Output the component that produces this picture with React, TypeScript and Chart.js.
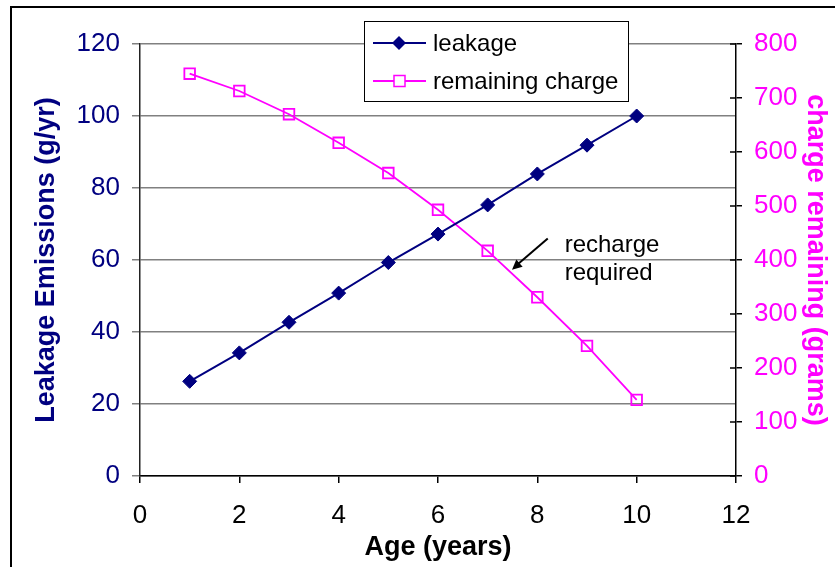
import React, { useEffect, useRef } from "react";
import { Chart, registerables } from "chart.js";

Chart.register(...registerables);

const ages = [1, 2, 3, 4, 5, 6, 7, 8, 9, 10];
const leakage = [26.3, 34.2, 42.7, 50.8, 59.3, 67.2, 75.3, 83.9, 91.9, 100];
const remaining = [745, 713, 670, 617, 561, 493, 417, 331, 241, 141];

const xTitle = "Age (years)";
const yLeftTitle = "Leakage Emissions (g/yr)";
const yRightTitle = "charge remaining (grams)";
const legendLabels = ["leakage", "remaining charge"];
const noteLines = ["recharge", "required"];

const NAVY = "#000080";
const MAGENTA = "#FF00FF";
const FONT = '"Liberation Sans", Arial, sans-serif';

const decorPlugin = {
  id: "decor",
  afterDraw(chart: any) {
    const ctx = chart.ctx;
    const x = chart.scales.x;
    const yl = chart.scales.y;
    const yr = chart.scales.y1;
    ctx.save();
    // inner half of right axis tick crosses
    ctx.strokeStyle = "#000";
    ctx.lineWidth = 1.5;
    for (const t of yr.ticks) {
      const py = yr.getPixelForValue(t.value);
      ctx.beginPath();
      ctx.moveTo(yr.left - 6, py);
      ctx.lineTo(yr.left, py);
      ctx.stroke();
    }
    // outer frame
    ctx.lineWidth = 2;
    ctx.strokeStyle = "#000";
    ctx.strokeRect(11, 7, 900, 700);

    // legend box
    const bx = 364, by = 21, bw = 264, bh = 80;
    ctx.fillStyle = "#fff";
    ctx.fillRect(bx, by, bw, bh);
    ctx.lineWidth = 1;
    ctx.strokeStyle = "#000";
    ctx.strokeRect(bx + 0.5, by + 0.5, bw, bh);
    const rows = [43, 81];
    ctx.font = "24px " + FONT;
    ctx.textBaseline = "middle";
    ctx.textAlign = "left";
    rows.forEach((ry, i) => {
      const col = i === 0 ? NAVY : MAGENTA;
      ctx.strokeStyle = col;
      ctx.lineWidth = 2;
      ctx.beginPath();
      ctx.moveTo(373, ry);
      ctx.lineTo(426, ry);
      ctx.stroke();
      if (i === 0) {
        ctx.fillStyle = NAVY;
        ctx.beginPath();
        ctx.moveTo(399 - 7, ry);
        ctx.lineTo(399, ry - 7);
        ctx.lineTo(399 + 7, ry);
        ctx.lineTo(399, ry + 7);
        ctx.closePath();
        ctx.fill();
      } else {
        ctx.lineWidth = 1.5;
        ctx.fillStyle = "#fff";
        ctx.fillRect(394, ry - 5.5, 11, 11);
        ctx.strokeRect(394, ry - 5.5, 11, 11);
      }
      ctx.fillStyle = "#000";
      ctx.fillText(legendLabels[i], 433, ry + 1);
    });

    // annotation
    const tx = x.getPixelForValue(8.55);
    const ty = yl.getPixelForValue(64.2);
    ctx.fillStyle = "#000";
    ctx.font = "24px " + FONT;
    ctx.fillText(noteLines[0], tx, ty);
    ctx.fillText(noteLines[1], tx, ty + 28);
    const ax0 = x.getPixelForValue(8.21), ay0 = yl.getPixelForValue(66.0);
    const ax1 = x.getPixelForValue(7.49), ay1 = yl.getPixelForValue(57.3);
    ctx.strokeStyle = "#000";
    ctx.lineWidth = 2;
    ctx.beginPath();
    ctx.moveTo(ax0, ay0);
    ctx.lineTo(ax1 + 4, ay1 - 4);
    ctx.stroke();
    const ang = Math.atan2(ay1 - ay0, ax1 - ax0);
    const hl = 11, hw = 0.45;
    ctx.fillStyle = "#000";
    ctx.beginPath();
    ctx.moveTo(ax1, ay1);
    ctx.lineTo(ax1 - hl * Math.cos(ang - hw), ay1 - hl * Math.sin(ang - hw));
    ctx.lineTo(ax1 - hl * Math.cos(ang + hw), ay1 - hl * Math.sin(ang + hw));
    ctx.closePath();
    ctx.fill();
    ctx.restore();
  },
};

export default function App() {
  const ref = useRef<HTMLCanvasElement | null>(null);
  useEffect(() => {
    document.body.style.margin = "0";
    if (!ref.current) return;
    const chart = new Chart(ref.current, {
      type: "line",
      data: {
        datasets: [
          {
            label: legendLabels[0],
            data: ages.map((a, i) => ({ x: a, y: leakage[i] })),
            borderColor: NAVY,
            backgroundColor: NAVY,
            borderWidth: 2,
            pointStyle: "rectRot",
            pointRadius: 7,
            pointBorderWidth: 1,
            pointBackgroundColor: NAVY,
            pointBorderColor: NAVY,
            yAxisID: "y",
            tension: 0,
          },
          {
            label: legendLabels[1],
            data: ages.map((a, i) => ({ x: a, y: remaining[i] })),
            borderColor: MAGENTA,
            backgroundColor: "#fff",
            borderWidth: 1.8,
            pointStyle: "rect",
            pointRadius: 7.5,
            pointBorderWidth: 1.8,
            pointBackgroundColor: "rgba(255,255,255,0)",
            pointBorderColor: MAGENTA,
            yAxisID: "y1",
            tension: 0,
          },
        ],
      },
      options: {
        animation: false,
        responsive: false,
        layout: { padding: { top: 44, left: 0, right: 0, bottom: 0 } },
        plugins: { legend: { display: false }, tooltip: { enabled: false } },
        scales: {
          x: {
            type: "linear",
            min: 0,
            max: 12,
            ticks: { stepSize: 2, color: "#000", font: { family: FONT, size: 26 }, padding: 17 },
            grid: { drawOnChartArea: false, drawTicks: true, tickLength: 7, color: "#000", lineWidth: 1.5 },
            border: { display: true, color: "#000", width: 1.5 },
            title: {
              display: true,
              text: xTitle,
              color: "#000",
              font: { family: FONT, size: 27, weight: "bold" },
              padding: { top: 0, bottom: 3 },
            },
            afterFit: (s: any) => {
              s.height = 91;
            },
          },
          y: {
            position: "left",
            min: 0,
            max: 120,
            ticks: { stepSize: 20, color: NAVY, font: { family: FONT, size: 26 }, padding: 12 },
            grid: { color: "#808080", lineWidth: 1.5, tickLength: 8 },
            border: { display: true, color: "#222", width: 1.5 },
            title: {
              display: true,
              text: yLeftTitle,
              color: NAVY,
              font: { family: FONT, size: 27, weight: "bold" },
              padding: { top: 30, bottom: 0 },
            },
            afterFit: (s: any) => {
              s.width = 140;
            },
          },
          y1: {
            position: "right",
            min: 0,
            max: 800,
            ticks: { stepSize: 100, color: MAGENTA, font: { family: FONT, size: 26 }, padding: 12 },
            grid: { drawOnChartArea: false, tickLength: 6, color: "#000", lineWidth: 1.5 },
            border: { display: true, color: "#000", width: 1.5 },
            title: {
              display: true,
              text: yRightTitle,
              color: MAGENTA,
              font: { family: FONT, size: 27, weight: "bold" },
              padding: { top: 3, bottom: 0 },
            },
            afterFit: (s: any) => {
              s.width = 99;
            },
          },
        },
      },
      plugins: [decorPlugin],
    });
    return () => chart.destroy();
  }, []);
  return (
    <div style={{ width: 835, height: 567, background: "#fff" }}>
      <canvas ref={ref} width={835} height={567} />
    </div>
  );
}
